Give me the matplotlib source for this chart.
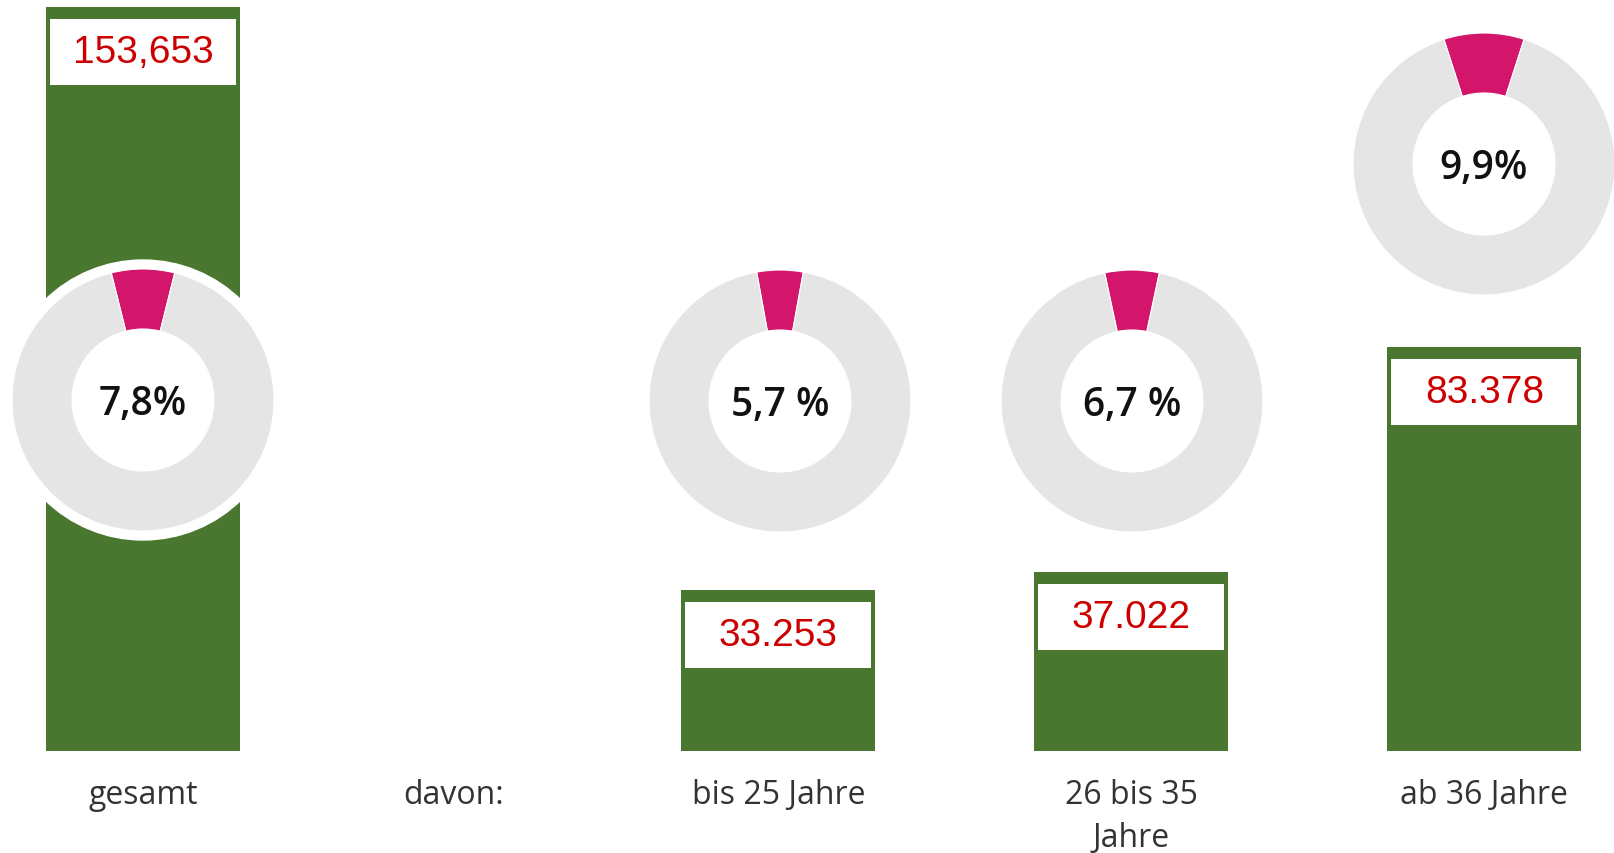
import matplotlib
matplotlib.use("Agg")
import matplotlib.pyplot as plt
from matplotlib.patches import Rectangle, Circle

# data
categories = ["gesamt", "bis 25 Jahre", "26 bis 35\nJahre", "ab 36 Jahre"]
counts = [153653, 33253, 37022, 83378]
count_labels = ["153,653", "33.253", "37.022", "83.378"]
shares = [7.8, 5.7, 6.7, 9.9]
share_labels = ["7,8%", "5,7 %", "6,7 %", "9,9%"]
extra_label = "davon:"

# layout (pixels of a 1615x854 canvas)
W, H = 1615, 854
slots = [0, 1.8, 2.8, 3.8]
davon_slot = 0.88
slot_px = 353.0
x0_px = 143.0
bar_w = 194 / slot_px
ax_bottom, ax_top = 752, 8          # pixel rows from the top
donut_centers = [(143, 401), (780, 402), (1132, 402), (1484, 165)]
donut_r, donut_hole, halo_r, donut_box = 131, 71, 140, 146

green = "#4a772f"
pink = "#d3166b"
ring = "#e5e5e5"
red = "#cc0000"
txt = "#333333"

fig = plt.figure(figsize=(W / 100, H / 100), dpi=100)
ax = fig.add_axes([0, (H - ax_bottom) / H, 1, (ax_bottom - ax_top) / H])
ax.set_xlim(-x0_px / slot_px, (W - x0_px) / slot_px)
ax.set_ylim(0, max(counts))
ax.axis("off")

ax.bar(slots, counts, width=bar_w, color=green, zorder=1)

# white boxes with the counts near the top of each bar
px = max(counts) / (ax_bottom - ax_top)
for s, v, lab in zip(slots, counts, count_labels):
    top = v - 12 * px
    bh = 66 * px
    inset = 4 / slot_px
    ax.add_patch(Rectangle((s - bar_w / 2 + inset, top - bh), bar_w - 2 * inset, bh,
                           facecolor="white", edgecolor="none", zorder=2))
    ax.text(s, top - bh / 2, lab, ha="center", va="center", color=red,
            fontsize=28, family="Liberation Sans", zorder=3)

# category labels under the bars
tr = ax.get_xaxis_transform()
lab_y = -(779 - ax_bottom) / (ax_bottom - ax_top)
for s, c in zip(slots, categories):
    ax.text(s, lab_y, c, transform=tr, ha="center", va="top", color=txt,
            fontsize=23, family="Open Sans", linespacing=1.4)
ax.text(davon_slot, lab_y, extra_label, transform=tr, ha="center", va="top",
        color=txt, fontsize=23, family="Open Sans")

# donuts
for i, ((cx, cy), p, lab) in enumerate(zip(donut_centers, shares, share_labels)):
    dax = fig.add_axes([(cx - donut_box) / W, (H - cy - donut_box) / H,
                        2 * donut_box / W, 2 * donut_box / H])
    if i == 0:
        dax.add_patch(Circle((0, 0), halo_r / donut_box, color="white", zorder=0))
    r = donut_r / donut_box
    dax.pie([p, 100 - p], colors=[pink, ring], radius=r,
            startangle=90 - p * 3.6 / 2, counterclock=True,
            wedgeprops=dict(width=(donut_r - donut_hole) / donut_box,
                            edgecolor="white", linewidth=0.8))
    dax.set_xlim(-1, 1)
    dax.set_ylim(-1, 1)
    dax.set_aspect("equal")
    dax.axis("off")
    dax.text(0, -0.03, lab, ha="center", va="center", color="#111111",
             fontsize=28, family="Open Sans", weight="semibold")

fig.savefig("out.png", dpi=100, facecolor="white")
